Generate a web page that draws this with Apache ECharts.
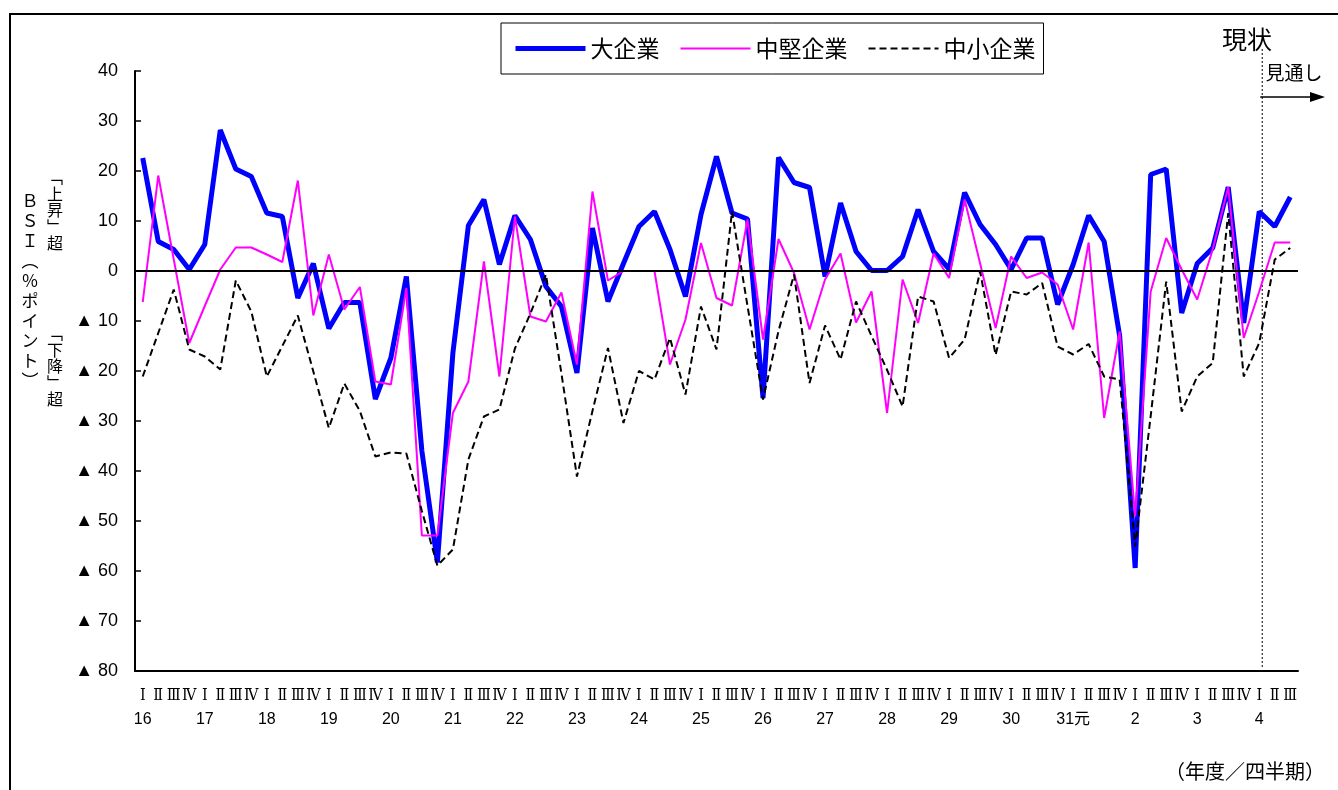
<!DOCTYPE html>
<html><head><meta charset="utf-8">
<script src="https://cdn.jsdelivr.net/npm/echarts@6/dist/echarts.min.js"></script>
<style>html,body{margin:0;padding:0;background:#fff}#c{width:1338px;height:790px}</style>
</head><body><div id="c"></div>
<script>
const years = ['16','17','18','19','20','21','22','23','24','25','26','27','28','29','30','31元','2','3','4'];
const quarters = ['Ⅰ','Ⅱ','Ⅲ','Ⅳ'];
const lastYearQuarters = 3;
const seriesNames = ['大企業','中堅企業','中小企業'];
const large = [22.6,5.9,4.3,0.3,5.3,28.2,20.4,18.9,11.6,10.9,-5.4,1.5,-11.5,-6.3,-6.3,-25.6,-17.4,-1.1,-36,-58.3,
  -16.4,9.1,14.3,1.3,11.1,6.3,-3.1,-7.1,-20.4,8.6,-6.1,1.5,8.9,11.9,4.3,-5.1,11.3,22.9,11.6,10.4,
  -25.4,22.7,17.7,16.7,-1.1,13.6,3.9,0.1,0.1,2.9,12.3,3.9,0.4,15.7,9.3,5.3,0.3,6.6,6.6,-6.7,
  1.3,11.1,5.9,-13,-59.4,19.3,20.4,-8.4,1.5,4.6,16.8,-10.4,11.9,8.9,14.8];
const medium = [-6.2,19.1,2.3,-14.4,-7,0.3,4.7,4.7,3.3,1.8,18.1,-8.9,3.3,-7.7,-3.2,-22.1,-22.7,-3.4,-52.9,-52.9,
  -28.4,-22.1,1.9,-21.1,10.9,-9.1,-10.1,-4.3,-18.7,15.9,-1.9,0,0,0,-18.7,-9.7,5.6,-5.4,-6.9,10.3,
  -13.7,6.4,-0.4,-11.7,-1.7,3.5,-10.3,-4.1,-28.4,-1.7,-10.4,3.5,-1.4,14.3,1.5,-11.4,2.9,-1.4,-0.3,-2.7,
  -11.7,5.7,-29.4,-12.1,-49.1,-4.1,6.6,0.3,-5.7,4.3,16.8,-13.4,-4.1,5.7,5.7];
const small = [-21.1,-12.4,-3.7,-15.7,-17.1,-19.7,-1.9,-8.1,-21.1,-15,-8.9,-20.1,-31.4,-22.5,-28,-37.1,-36.3,-36.5,-48,-58.9,
  -55.7,-37.7,-29.1,-27.7,-15.5,-8.5,-0.7,-20.5,-41.1,-28,-15.4,-30.4,-20,-21.7,-13.4,-24.7,-7.1,-15.7,11.9,-7,
  -25.7,-12,-0.7,-22.4,-10.9,-17.7,-6.1,-13,-19.8,-27.1,-5.1,-6.1,-17.4,-13.7,-0.1,-16.8,-4.1,-4.7,-2.4,-15.1,
  -16.7,-14.6,-21.1,-21.7,-55.1,-29,-2.1,-28.1,-21.1,-18.4,11.6,-21.1,-14.4,2.3,4.6];
const forecastStartIndex = 72;

const categories = [];
years.forEach((y, yi) => {
  const n = yi === years.length - 1 ? lastYearQuarters : 4;
  for (let q = 0; q < n; q++) categories.push(y + '|' + q);
});

const chart = echarts.init(document.getElementById('c'), null, {renderer: 'canvas'});
const sansJP = "'Noto Sans CJK JP', sans-serif";
const option = {
  backgroundColor: '#fff',
  animation: false,
  grid: {left: 135, right: 40, top: 71, bottom: 119, containLabel: false},
  legend: {
    left: 501, top: 23,
    padding: [14, 8, 14, 12],
    itemGap: 20, itemWidth: 70, itemHeight: 16,
    borderColor: '#000', borderWidth: 1,
    itemStyle: {opacity: 0, borderWidth: 0},
    lineStyle: {width: 'inherit'},
    textStyle: {fontSize: 23, fontFamily: sansJP, color: '#000'},
    data: seriesNames
  },
  xAxis: {
    type: 'category', data: categories, boundaryGap: true,
    axisLine: {onZero: false, lineStyle: {color: '#000', width: 2}},
    axisTick: {inside: true, length: 5, lineStyle: {color: '#000', width: 1}},
    axisLabel: {
      interval: 0, margin: 13, color: '#000',
      formatter: v => {
        const [y, q] = v.split('|');
        return '{q|' + quarters[+q] + '}\n{y|' + (q === '0' ? y : ' ') + '}';
      },
      rich: {
        q: {fontSize: 16, lineHeight: 24, fontFamily: "'DejaVu Serif Condensed', 'DejaVu Serif', 'Liberation Serif', serif", color: '#000'},
        y: {fontSize: 16, lineHeight: 24, fontFamily: "'Liberation Sans Narrow', 'Liberation Sans', 'Noto Sans CJK JP', sans-serif", color: '#000'}
      }
    },
    splitLine: {show: false}
  },
  yAxis: {
    type: 'value', min: -80, max: 40, interval: 10,
    axisLine: {show: true, lineStyle: {color: '#000', width: 2}},
    axisTick: {show: true, inside: true, length: 6, lineStyle: {color: '#000', width: 1.5}},
    axisLabel: {
      margin: 17, color: '#000', fontSize: 18, fontFamily: "'Liberation Sans', Arial, sans-serif",
      formatter: v => v < 0 ? '▲ ' + (-v) : String(v)
    },
    splitLine: {show: false}
  },
  series: [
    {name: seriesNames[0], type: 'line', data: large, symbol: 'none', z: 3,
     lineStyle: {color: '#0000ff', width: 5}, itemStyle: {color: '#0000ff'},
     markLine: {silent: true, symbol: 'none', label: {show: false},
       lineStyle: {color: '#000', width: 2, type: 'solid'}, data: [{yAxis: 0}]}},
    {name: seriesNames[1], type: 'line', data: medium, symbol: 'none', z: 4,
     lineStyle: {color: '#ff00ff', width: 2}, itemStyle: {color: '#ff00ff'}},
    {name: seriesNames[2], type: 'line', data: small, symbol: 'none', z: 5,
     lineStyle: {color: '#000', width: 2, type: [7, 4]}, itemStyle: {color: '#000'}}
  ]
};
chart.setOption(option);

const fx = chart.convertToPixel({xAxisIndex: 0}, forecastStartIndex) + 3;
const yTop = chart.convertToPixel({yAxisIndex: 0}, 40);
const yBot = chart.convertToPixel({yAxisIndex: 0}, -80);
chart.setOption({
  graphic: [
    {type: 'polyline', id: 'frame', shape: {points: [[10, 790], [10, 14], [1338, 14]]},
     style: {stroke: '#000', lineWidth: 2, fill: null}},
    {type: 'line', id: 'fline', shape: {x1: fx, y1: yTop - 22, x2: fx, y2: yBot - 4},
     style: {stroke: '#000', lineWidth: 1, lineDash: [2, 2]}},
    {type: 'line', id: 'arrow', shape: {x1: fx - 2, y1: 97, x2: 1312, y2: 97},
     style: {stroke: '#000', lineWidth: 1.5}},
    {type: 'polygon', id: 'arrowhead', shape: {points: [[1310, 92], [1325, 97], [1310, 102]]},
     style: {fill: '#000'}},
    {type: 'text', id: 'now', x: 1247, y: 39,
     style: {text: '現状', fontSize: 25, fontFamily: sansJP, fill: '#000', align: 'center', verticalAlign: 'middle'}},
    {type: 'text', id: 'outlook', x: 1294, y: 73,
     style: {text: '見通し', fontSize: 19, fontFamily: sansJP, fill: '#000', align: 'center', verticalAlign: 'middle'}},
    {type: 'text', id: 'ytitle', x: 30, y: 191,
     style: {text: 'ＢＳＩ︵％ポイント︶'.split('').join('\n'), fontSize: 17, lineHeight: 20,
       fontFamily: sansJP, fill: '#000', align: 'center', verticalAlign: 'top'}},
    {type: 'text', id: 'up', x: 55, y: 169,
     style: {text: '﹁上昇﹂超'.split('').join('\n'), fontSize: 16, lineHeight: 16.5,
       fontFamily: sansJP, fill: '#000', align: 'center', verticalAlign: 'top'}},
    {type: 'text', id: 'down', x: 55, y: 325,
     style: {text: '﹁下降﹂超'.split('').join('\n'), fontSize: 16, lineHeight: 16.5,
       fontFamily: sansJP, fill: '#000', align: 'center', verticalAlign: 'top'}},
    {type: 'text', id: 'xname', x: 1325, y: 771,
     style: {text: '（年度／四半期）', fontSize: 20, fontFamily: sansJP, fill: '#000', align: 'right', verticalAlign: 'middle'}}
  ]
});
</script>
</body></html>
